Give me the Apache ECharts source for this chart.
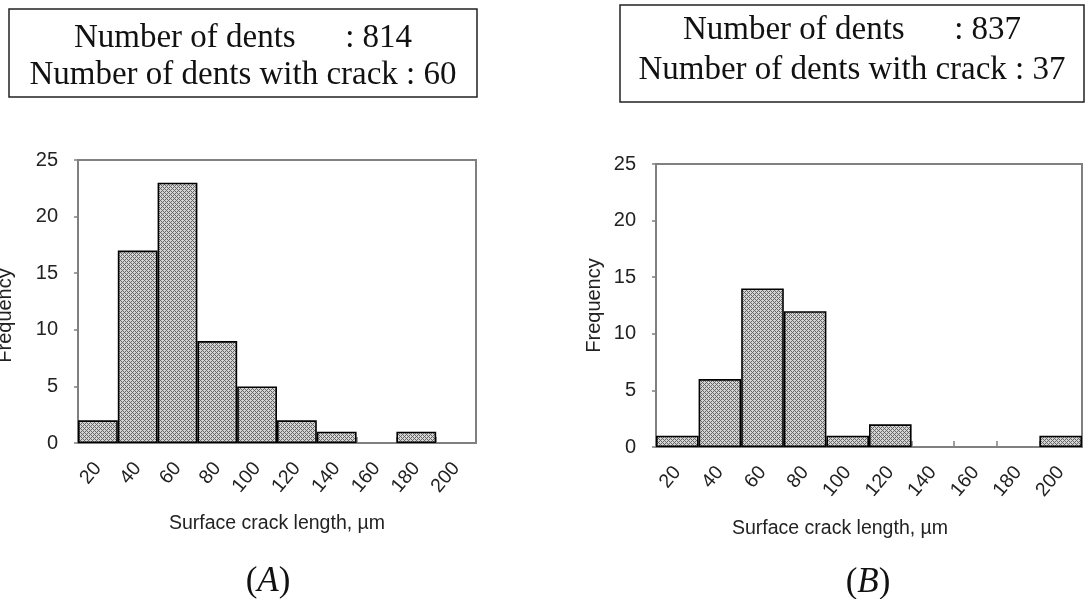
<!DOCTYPE html>
<html>
<head>
<meta charset="utf-8">
<title>Surface crack length distributions</title>
<script src="https://cdn.jsdelivr.net/npm/echarts@6/dist/echarts.min.js"></script>
<style>
  html, body { margin: 0; padding: 0; background: #fff; }
  #chart { width: 1089px; height: 599px; }
</style>
</head>
<body>
<div id="chart"></div>
<script>
// Bin labels for surface crack length (µm)
const lengthBins = ['20', '40', '60', '80', '100', '120', '140', '160', '180', '200'];
// Frequency of cracked dents per bin, panel A and panel B
const freqA = [2, 17, 23, 9, 5, 2, 1, 0, 1, 0];
const freqB = [1, 6, 14, 12, 1, 2, 0, 0, 0, 1];
// Frequency axis ticks
const freqTicks = [0, 5, 10, 15, 20, 25];
// Dent counts shown in the boxes above each panel
const totalDents = [814, 837];
const crackedDents = [60, 37];
const panelNames = ['A', 'B'];

// Fine crosshatch fill for the bars
function hatchPattern() {
  const c = document.createElement('canvas');
  c.width = 4; c.height = 4;
  const g = c.getContext('2d');
  g.fillStyle = '#d4d4d4';
  g.fillRect(0, 0, 4, 4);
  g.fillStyle = '#666';
  for (let x = 0; x < 4; x++) {
    for (let y = 0; y < 4; y++) {
      if ((x + y) % 4 === 0 || (x - y + 4) % 4 === 0) g.fillRect(x, y, 1, 1);
    }
  }
  return c;
}
const hatch = { image: hatchPattern(), repeat: 'repeat' };

const sans = 'Liberation Sans, Arial, sans-serif';
const serif = 'Liberation Serif, Times New Roman, serif';
const axisGrey = '#808080';
const labelColor = '#222';

const grids = [
  { left: 78, top: 160, width: 398, height: 283 },
  { left: 656, top: 164, width: 426, height: 283 }
];

function xAxisFor(i, gap, namePad) {
  return {
    type: 'category', gridIndex: i, data: lengthBins,
    axisLine: { lineStyle: { color: axisGrey, width: 2 } },
    axisTick: { show: true, inside: true, length: 6, lineStyle: { color: axisGrey, width: 1.5 } },
    axisLabel: { rotate: 50, margin: 22, fontFamily: sans, fontSize: 19.5, color: labelColor },
    name: 'Surface crack length, µm', nameLocation: 'middle', nameGap: gap,
    nameTextStyle: { fontFamily: sans, fontSize: 19.5, color: labelColor, padding: namePad }
  };
}
function yAxisFor(i, gap, namePad) {
  return {
    type: 'value', gridIndex: i, min: freqTicks[0], max: freqTicks[freqTicks.length - 1],
    interval: freqTicks[1] - freqTicks[0],
    axisLine: { show: true, lineStyle: { color: axisGrey, width: 2 } },
    axisTick: { show: true, length: 4, lineStyle: { color: axisGrey, width: 1.5 } },
    splitLine: { show: false },
    axisLabel: { margin: 20, fontFamily: sans, fontSize: 20, color: labelColor },
    name: 'Frequency', nameLocation: 'middle', nameGap: gap,
    nameTextStyle: { fontFamily: sans, fontSize: 20, color: labelColor, padding: namePad }
  };
}
function barSeries(i, values) {
  return {
    type: 'bar', xAxisIndex: i, yAxisIndex: i,
    data: values.map(v => (v === 0 ? null : v)),
    barCategoryGap: '0%',
    itemStyle: { color: hatch, borderColor: '#000', borderWidth: 1.6 },
    silent: true, animation: false
  };
}

// Count boxes and panel captions
const boxes = [
  { x: 9, y: 9, w: 468, h: 88, l1: 29, l2: 66, pad: '      ' },
  { x: 620, y: 5, w: 464, h: 97, l1: 25, l2: 65, pad: '      ' }
];
const captionPos = [[268, 582], [868, 583]];

const graphics = [];
boxes.forEach((b, i) => {
  graphics.push({
    type: 'rect', shape: { x: b.x, y: b.y, width: b.w, height: b.h },
    style: { fill: '#fff', stroke: '#222', lineWidth: 1.5 }
  });
  graphics.push({
    type: 'text', x: b.x + b.w / 2, y: b.y + b.l1,
    style: { text: 'Number of dents' + b.pad + ': ' + totalDents[i], font: '33px ' + serif,
             fill: '#111', textAlign: 'center', textVerticalAlign: 'middle' }
  });
  graphics.push({
    type: 'text', x: b.x + b.w / 2, y: b.y + b.l2,
    style: { text: 'Number of dents with crack : ' + crackedDents[i], font: '33px ' + serif,
             fill: '#111', textAlign: 'center', textVerticalAlign: 'middle' }
  });
  graphics.push({
    type: 'text', x: captionPos[i][0], y: captionPos[i][1],
    style: {
      text: '({it|' + panelNames[i] + '})',
      font: '35px ' + serif, fill: '#111', textAlign: 'center', textVerticalAlign: 'middle',
      rich: { it: { fontFamily: serif, fontSize: 35, fontStyle: 'italic', fill: '#111' } }
    }
  });
});

const chart = echarts.init(document.getElementById('chart'), null, { renderer: 'canvas' });
chart.setOption({
  backgroundColor: '#fff',
  animation: false,
  grid: grids.map(g => Object.assign({ show: true, borderColor: axisGrey, borderWidth: 2,
                                       backgroundColor: 'transparent',
                                       containLabel: false, outerBoundsMode: 'none' }, g)),
  xAxis: [xAxisFor(0, 71, [0, 0, 0, 0]), xAxisFor(1, 72, [0, 58, 0, 0])],
  yAxis: [yAxisFor(0, 63, [0, 28, 0, 0]), yAxisFor(1, 52, [0, 0, 0, 0])],
  series: [barSeries(0, freqA), barSeries(1, freqB)],
  graphic: graphics
});
</script>
</body>
</html>
